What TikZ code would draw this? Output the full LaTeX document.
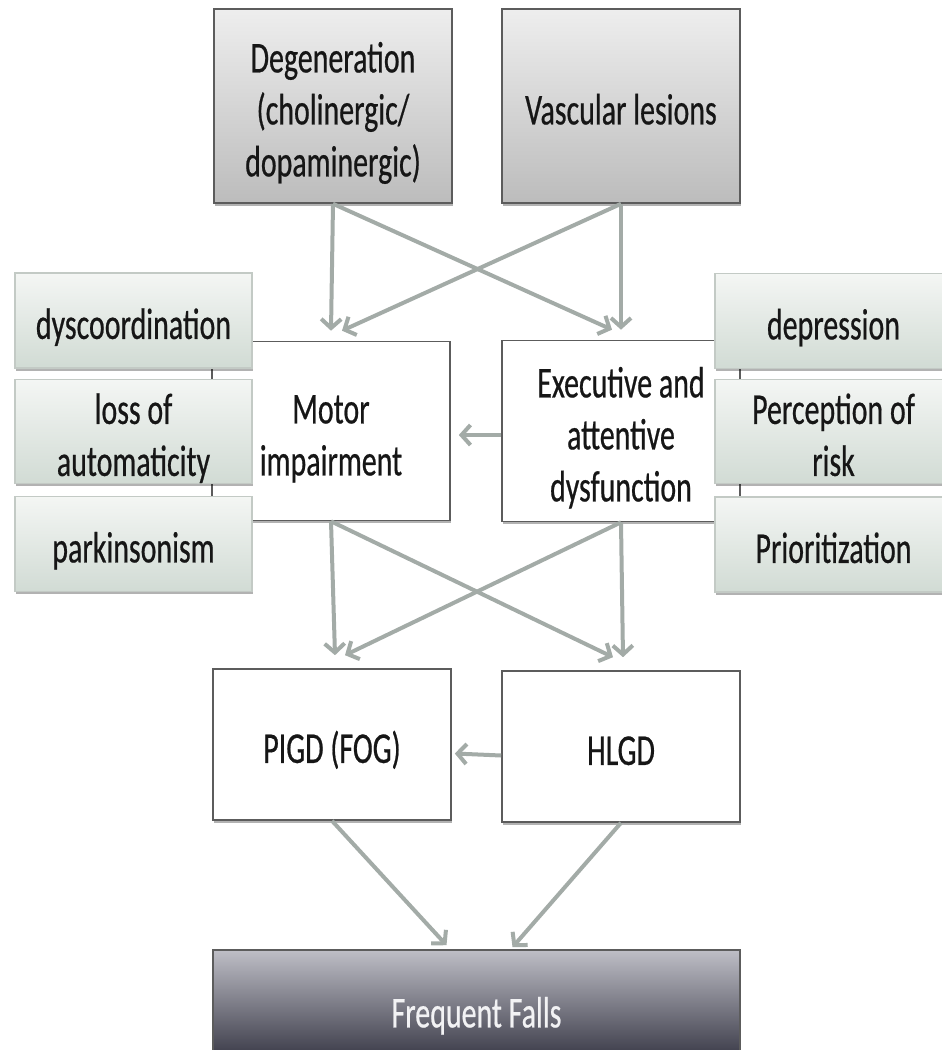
\documentclass[tikz,border=0pt]{standalone}
\usepackage{fontspec}
\setmainfont{Carlito}[FakeStretch=0.68, FakeBold=0.5]
\usetikzlibrary{arrows.meta,shadows}

\definecolor{arrowgray}{HTML}{A3ABA7}
\definecolor{boxedge}{HTML}{5C5C5C}
\definecolor{textdark}{HTML}{161616}
\definecolor{causetop}{HTML}{EEEEEE}
\definecolor{causebot}{HTML}{BCBCBC}
\definecolor{sidetop}{HTML}{F4F6F4}
\definecolor{sidebot}{HTML}{D1DBD4}
\definecolor{sideedge}{HTML}{C3CAC5}
\definecolor{fallstop}{HTML}{BEBEC6}
\definecolor{fallsbot}{HTML}{2E2E3C}
\definecolor{fallstext}{HTML}{F2F2F4}

% centred lines of box text, set a little below the box centre
\newcommand\boxlines[1]{\raisebox{-8pt}[\height][\depth]{\begin{tabular}{@{}c@{}}#1\end{tabular}}}

\tikzset{
  base/.style={line width=1.6pt, inner sep=0pt,
    font=\fontsize{44}{52}\selectfont, text=textdark,
    drop shadow={shadow xshift=1pt, shadow yshift=-2.5pt, opacity=0.3, fill=black}},
  causebox/.style={base, draw=boxedge, top color=causetop, bottom color=causebot,
    minimum width=238pt, minimum height=194pt},
  plainbox/.style={base, draw=boxedge, fill=white, minimum width=238pt},
  sidebox/.style={base, draw=sideedge, line width=1.2pt, top color=sidetop, bottom color=sidebot,
    minimum width=237pt, minimum height=95pt},
  fallsbox/.style={base, draw=boxedge, top color=fallstop, bottom color=fallsbot,
    text=fallstext, minimum width=527pt, minimum height=118pt},
  arr/.style={draw=arrowgray, line width=4pt,
    -{Straight Barb[length=9pt, width=20pt]}}
}

\begin{document}
\begin{tikzpicture}[x=1pt, y=-1pt]
\useasboundingbox (0,0) rectangle (942,1050);
\clip (0,0) rectangle (942,1050);

% causes
\node[causebox] (deg) at (333,106) {\boxlines{Degeneration\\(cholinergic/\\dopaminergic)}};
\node[causebox] (vasc) at (621,106) {\boxlines{Vascular lesions}};

% central dysfunctions
\node[plainbox, minimum height=179pt] (motor) at (331,431) {\boxlines{Motor\\impairment}};
\node[plainbox, minimum height=181pt] (exec) at (621,431) {\boxlines{Executive and\\attentive\\dysfunction}};

% contributing factors on each side
\node[sidebox] (dys)  at (133.5,320.5) {\boxlines{dyscoordination}};
\node[sidebox] (loss) at (133.5,431.5) {\boxlines{loss of\\automaticity}};
\node[sidebox] (park) at (133.5,544)   {\boxlines{parkinsonism}};
\node[sidebox] (depr) at (833.5,321)   {\boxlines{depression}};
\node[sidebox] (perc) at (833.5,431.5) {\boxlines{Perception of\\risk}};
\node[sidebox] (prio) at (833.5,544.5) {\boxlines{Prioritization}};

% gait disorders
\node[plainbox, minimum height=151pt] (pigd) at (332,744.5) {\boxlines{PIGD (FOG)}};
\node[plainbox, minimum height=151pt] (hlgd) at (621,746.5) {\boxlines{HLGD}};

% outcome
\node[fallsbox] (falls) at (476.5,1009) {\boxlines{Frequent Falls}};

% causes -> dysfunctions
\draw[arr] (deg.south) -- ([yshift=10pt]motor.north);
\draw[arr] (vasc.south) -- ([yshift=10pt]exec.north);
\draw[arr] (deg.south) -- ([xshift=-9pt,yshift=10pt]exec.north);
\draw[arr] (vasc.south) -- ([xshift=11pt,yshift=10pt]motor.north);

% executive -> motor
\draw[arr] ([yshift=-4pt]exec.west) -- ([xshift=8pt,yshift=-4pt]motor.east);

% dysfunctions -> gait disorders
\draw[arr] (motor.south) -- ([xshift=3pt,yshift=13pt]pigd.north);
\draw[arr] (exec.south) -- ([xshift=2pt,yshift=13pt]hlgd.north);
\draw[arr] (motor.south) -- ([xshift=-8pt,yshift=13pt]hlgd.north);
\draw[arr] (exec.south) -- ([xshift=13pt,yshift=13pt]pigd.north);

% HLGD -> PIGD
\draw[arr] ([yshift=-9pt]hlgd.west) -- ([xshift=3pt,yshift=-9pt]pigd.east);

% gait disorders -> falls
\draw[arr] (pigd.south) -- ([xshift=-30pt,yshift=4pt]falls.north);
\draw[arr] (hlgd.south) -- ([xshift=36pt,yshift=2pt]falls.north);
\end{tikzpicture}
\end{document}
